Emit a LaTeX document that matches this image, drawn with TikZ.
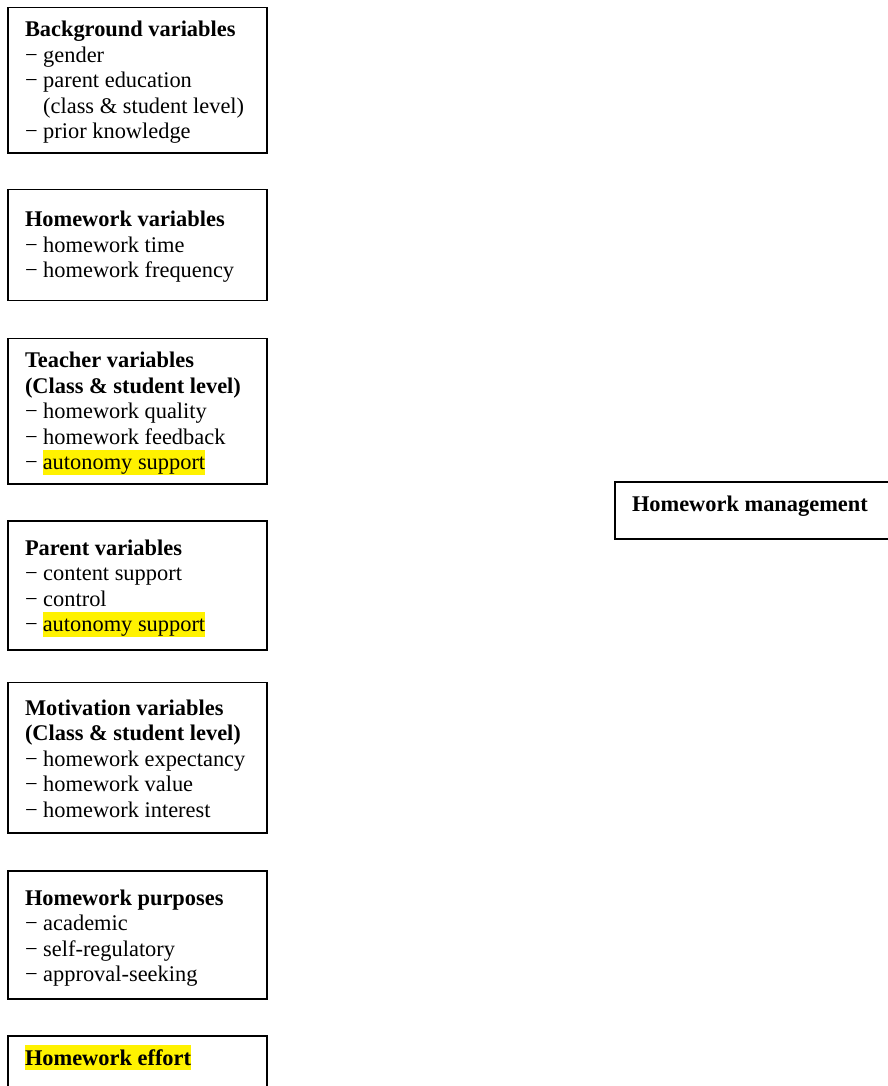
\documentclass[tikz,border=0pt]{standalone}
\usepackage{fontspec}
\setmainfont{Liberation Serif}
\begin{document}
\begin{tikzpicture}[x=1pt,y=-1pt,
  vbox/.style={draw, line width=1.5pt, rectangle, inner sep=0pt, outer sep=0pt, anchor=north west},
  ln/.style={anchor=base west, inner sep=0pt, outer sep=0pt, font=\fontsize{22.4}{25.5}\selectfont},
  hd/.style={ln, font=\fontsize{22.4}{25.5}\selectfont\bfseries},
  hl/.style={fill=yellow, text height=19.5pt, text depth=5.7pt}
]
\useasboundingbox (0,0) rectangle (888,1086);
\clip (0,0) rectangle (888,1086);

% Background variables
\node[vbox, minimum width=259pt, minimum height=145.7pt] (bg) at (8,7.3) {};
\node[hd] (bg0) at (25,36.7) {Background variables};
\node[ln] (bg1) at (25,62.2) {− gender};
\node[ln] (bg2) at (25,87.7) {− parent education};
\node[ln] (bg3) at (43.2,113.2) {(class \& student level)};
\node[ln] (bg4) at (25,138.7) {− prior knowledge};

% Homework variables
\node[vbox, minimum width=259pt, minimum height=111pt] (hw) at (8,189.3) {};
\node[hd] (hw0) at (25,226.5) {Homework variables};
\node[ln] (hw1) at (25,252) {− homework time};
\node[ln] (hw2) at (25,277.5) {− homework frequency};

% Teacher variables
\node[vbox, minimum width=259pt, minimum height=145.7pt] (tv) at (8,338.3) {};
\node[hd] (tv0) at (25,367.7) {Teacher variables};
\node[hd] (tv1) at (25,393.2) {(Class \& student level)};
\node[ln] (tv2) at (25,418.7) {− homework quality};
\node[ln] (tv3) at (25,444.2) {− homework feedback};
\node[ln] (tv4a) at (25,469.7) {−};
\node[ln, hl] (tv4b) at (42.8,469.7) {autonomy support};

% Parent variables
\node[vbox, minimum width=259pt, minimum height=129pt] (pv) at (8,521) {};
\node[hd] (pv0) at (25,555) {Parent variables};
\node[ln] (pv1) at (25,580.5) {− content support};
\node[ln] (pv2) at (25,606) {− control};
\node[ln] (pv3a) at (25,631.5) {−};
\node[ln, hl] (pv3b) at (42.8,631.5) {autonomy support};

% Motivation variables
\node[vbox, minimum width=259pt, minimum height=150.3pt] (mv) at (8,682.7) {};
\node[hd] (mv0) at (25,715) {Motivation variables};
\node[hd] (mv1) at (25,740.5) {(Class \& student level)};
\node[ln] (mv2) at (25,766) {− homework expectancy};
\node[ln] (mv3) at (25,791.5) {− homework value};
\node[ln] (mv4) at (25,817) {− homework interest};

% Homework purposes
\node[vbox, minimum width=259pt, minimum height=128pt] (hp) at (8,871) {};
\node[hd] (hp0) at (25,905) {Homework purposes};
\node[ln] (hp1) at (25,930.5) {− academic};
\node[ln] (hp2) at (25,956) {− self-regulatory};
\node[ln] (hp3) at (25,981.5) {− approval-seeking};

% Homework effort (cut off at bottom)
\node[vbox, minimum width=259pt, minimum height=100pt] (he) at (8,1036) {};
\node[hd, hl, text height=20pt, text depth=5pt] (he0) at (25,1065) {Homework effort};

% Homework management (cut off at right)
\node[vbox, minimum width=300pt, minimum height=57pt] (hm) at (615,482) {};
\node[hd] (hm0) at (632,511.7) {Homework management};
\end{tikzpicture}
\end{document}
